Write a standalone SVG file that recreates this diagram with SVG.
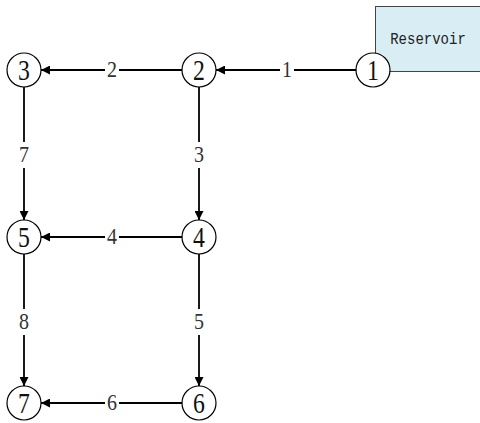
<svg xmlns="http://www.w3.org/2000/svg" width="480" height="423" viewBox="0 0 480 423">
  <defs>
    <marker id="arrow" viewBox="0 0 10 10" refX="10" refY="5" markerWidth="10" markerHeight="9" markerUnits="userSpaceOnUse" orient="auto">
      <path d="M0,0 L10,5 L0,10 Z" fill="#000"/>
    </marker>
    <style>
      .edge { stroke: #000; stroke-width: 1.8; fill: none; marker-end: url(#arrow); }
      .node circle { fill: #fff; stroke: #000; stroke-width: 1.2; }
      .node text { font-family: "Liberation Serif", "DejaVu Serif", serif; font-size: 25px; text-anchor: middle; dominant-baseline: central; fill: #111; }
      .lbl rect { fill: #fff; }
      .lbl text { font-family: "Liberation Serif", "DejaVu Serif", serif; font-size: 20px; text-anchor: middle; dominant-baseline: central; fill: #333; }
      .res rect { fill: #d9edf4; stroke: #444; stroke-width: 1; }
      .res text { font-family: "Liberation Mono", "DejaVu Sans Mono", monospace; font-size: 14px; text-anchor: middle; fill: #222; }
    </style>
  </defs>

  <!-- reservoir box behind node 1 -->
  <g id="reservoir" class="res">
    <rect x="375.5" y="6.5" width="110" height="65"/>
    <text transform="translate(428,44) scale(1,1.15)">Reservoir</text>
  </g>

  <!-- pipes with their numbers -->
  <g id="connectors">
    <line class="edge" x1="356" y1="70" x2="216" y2="70"/>
    <line class="edge" x1="182" y1="70" x2="41" y2="70"/>
    <line class="edge" x1="199" y1="87" x2="199" y2="220"/>
    <line class="edge" x1="24" y1="87" x2="24" y2="220"/>
    <line class="edge" x1="182" y1="237" x2="41" y2="237"/>
    <line class="edge" x1="199" y1="254" x2="199" y2="386"/>
    <line class="edge" x1="24" y1="254" x2="24" y2="386"/>
    <line class="edge" x1="182" y1="403" x2="41" y2="403"/>

    <g class="lbl"><rect x="280" y="60" width="14" height="20"/><text transform="translate(287,70) scale(1,1.15)">1</text></g>
    <g class="lbl"><rect x="105" y="60" width="14" height="20"/><text transform="translate(112,70) scale(1,1.15)">2</text></g>
    <g class="lbl"><rect x="192" y="142" width="14" height="26"/><text transform="translate(199,155) scale(1,1.15)">3</text></g>
    <g class="lbl"><rect x="17" y="142" width="14" height="26"/><text transform="translate(24,155) scale(1,1.15)">7</text></g>
    <g class="lbl"><rect x="105" y="227" width="14" height="20"/><text transform="translate(112,237) scale(1,1.15)">4</text></g>
    <g class="lbl"><rect x="192" y="309" width="14" height="26"/><text transform="translate(199,322) scale(1,1.15)">5</text></g>
    <g class="lbl"><rect x="17" y="309" width="14" height="26"/><text transform="translate(24,322) scale(1,1.15)">8</text></g>
    <g class="lbl"><rect x="105" y="393" width="14" height="20"/><text transform="translate(112,403) scale(1,1.15)">6</text></g>
  </g>

  <g id="node1" class="node"><circle cx="373" cy="70" r="17"/><text transform="translate(373,71) scale(0.95,1.15)">1</text></g>
  <g id="node2" class="node"><circle cx="199" cy="70" r="17"/><text transform="translate(199,71) scale(0.95,1.15)">2</text></g>
  <g id="node3" class="node"><circle cx="24" cy="70" r="17"/><text transform="translate(24,71) scale(0.95,1.15)">3</text></g>
  <g id="node4" class="node"><circle cx="199" cy="237" r="17"/><text transform="translate(199,238) scale(0.95,1.15)">4</text></g>
  <g id="node5" class="node"><circle cx="24" cy="237" r="17"/><text transform="translate(24,238) scale(0.95,1.15)">5</text></g>
  <g id="node6" class="node"><circle cx="199" cy="403" r="17"/><text transform="translate(199,404) scale(0.95,1.15)">6</text></g>
  <g id="node7" class="node"><circle cx="24" cy="403" r="17"/><text transform="translate(24,404) scale(0.95,1.15)">7</text></g>
</svg>
